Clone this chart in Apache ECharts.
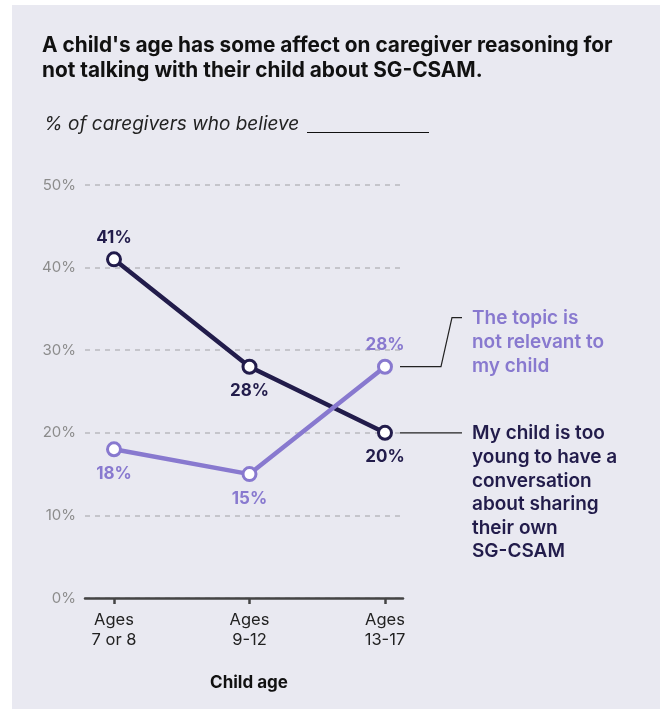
<!DOCTYPE html>
<html>
<head>
<meta charset="utf-8">
<title></title>
<style>
  html, body { margin: 0; padding: 0; background: #fff; }
  #chart { position: absolute; left: 12px; top: 5px; width: 648px; height: 704px; background: #e9e9f1; }
</style>
</head>
<body>
<div id="chart"></div>
<script src="https://cdn.jsdelivr.net/npm/echarts@6/dist/echarts.min.js"></script>
<script>
// data
var ageGroups = ['Ages\n7 or 8', 'Ages\n9-12', 'Ages\n13-17'];
var tooYoung = [41, 28, 20];
var notRelevant = [18, 15, 28];
var tooYoungLabelPos = ['top', 'bottom', 'bottom'];
var notRelevantLabelPos = ['bottom', 'bottom', 'top'];
var yTicks = [0, 10, 20, 30, 40, 50];

var darkColor = '#221c4b';
var purpleColor = '#8879cf';
var fontFam = 'Inter, "Noto Sans", sans-serif';

function buildData(vals, pos) {
  return vals.map(function (v, i) {
    return { value: [i, v], label: { position: pos[i], distance: pos[i] == 'top' ? 5 : 8 } };
  });
}

var myChart = echarts.init(document.getElementById('chart'));
myChart.setOption({
  backgroundColor: 'transparent',
  textStyle: { fontFamily: fontFam },
  animation: false,
  title: {
    text: "A child's age has some affect on caregiver reasoning for\nnot talking with their child about SG-CSAM.",
    left: 25,
    top: 23,
    textStyle: { fontSize: 20.8, fontWeight: 'bold', color: '#111', lineHeight: 25, fontFamily: fontFam }
  },
  grid: { left: 73, right: 257, top: 180, bottom: 111 },
  xAxis: {
    type: 'value',
    min: -0.214,
    max: 2.133,
    splitLine: { show: false },
    axisLine: { show: true, lineStyle: { color: '#444', width: 2.5 } },
    axisTick: { show: true, customValues: [0, 1, 2], length: 6, lineStyle: { color: '#444', width: 2.5 } },
    axisLabel: {
      customValues: [0, 1, 2],
      formatter: function (v) { return ageGroups[Math.round(v)]; },
      color: '#222', fontSize: 16.5, lineHeight: 20, margin: 12, fontFamily: fontFam
    },
    name: 'Child age',
    nameLocation: 'middle',
    nameGap: 76,
    nameTextStyle: { fontSize: 17, fontWeight: 'bold', color: '#111', fontFamily: fontFam, padding: [0, 0, 0, 10] }
  },
  yAxis: {
    type: 'value',
    min: 0,
    max: 50,
    interval: 10,
    axisLine: { show: false },
    axisTick: { show: false },
    axisLabel: { formatter: '{value}%', color: '#8c8c8c', fontSize: 15, margin: 9, fontFamily: fontFam },
    splitLine: { show: true, lineStyle: { color: '#b9b9bf', width: 1.5, type: [5, 5] } }
  },
  series: [
    {
      name: 'My child is too young',
      type: 'line',
      data: buildData(tooYoung, tooYoungLabelPos),
      symbol: 'circle',
      symbolSize: 13,
      lineStyle: { color: darkColor, width: 4.5 },
      itemStyle: { color: '#fff', borderColor: darkColor, borderWidth: 3 },
      label: {
        show: true,
        formatter: function (p) { return p.value[1] + '%'; },
        color: darkColor, fontSize: 17, fontWeight: 'bold', fontFamily: fontFam
      },
      z: 3
    },
    {
      name: 'The topic is not relevant',
      type: 'line',
      data: buildData(notRelevant, notRelevantLabelPos),
      symbol: 'circle',
      symbolSize: 13,
      lineStyle: { color: purpleColor, width: 4.5 },
      itemStyle: { color: '#fff', borderColor: purpleColor, borderWidth: 3 },
      label: {
        show: true,
        formatter: function (p) { return p.value[1] + '%'; },
        color: purpleColor, fontSize: 17, fontWeight: 'bold', fontFamily: fontFam
      },
      z: 4
    }
  ]
});

// annotations placed from the last points
var pPurple = myChart.convertToPixel({ seriesIndex: 1 }, [2, notRelevant[2]]);
var pDark = myChart.convertToPixel({ seriesIndex: 0 }, [2, tooYoung[2]]);
var textX = pPurple[0] + 87;
var purpleTextTop = pPurple[1] - 49;

myChart.setOption({
  graphic: [
    {
      type: 'text', left: 32, top: 110,
      style: { text: '% of caregivers who believe', fill: '#222', font: 'italic 19px ' + fontFam }
    },
    {
      type: 'line', shape: { x1: 295, y1: 127.5, x2: 417, y2: 127.5 },
      style: { stroke: '#111', lineWidth: 1 }
    },
    {
      type: 'polyline',
      shape: { points: [[pPurple[0] + 15, pPurple[1]], [pPurple[0] + 56, pPurple[1]], [pPurple[0] + 67, pPurple[1] - 49], [pPurple[0] + 77, pPurple[1] - 49]] },
      style: { stroke: '#222', lineWidth: 1.2, fill: null }
    },
    {
      type: 'text', x: textX, y: purpleTextTop - 11,
      style: { text: 'The topic is\nnot relevant to\nmy child', fill: purpleColor, fontSize: 19, fontWeight: 600, lineHeight: 24, fontFamily: fontFam }
    },
    {
      type: 'line', shape: { x1: pDark[0] + 15, y1: pDark[1], x2: pDark[0] + 77, y2: pDark[1] },
      style: { stroke: '#222', lineWidth: 1.2 }
    },
    {
      type: 'text', x: textX, y: pDark[1] - 11,
      style: { text: 'My child is too\nyoung to have a\nconversation\nabout sharing\ntheir own\nSG-CSAM', fill: darkColor, fontSize: 19, fontWeight: 600, lineHeight: 23.6, fontFamily: fontFam }
    }
  ]
});
</script>
</body>
</html>
